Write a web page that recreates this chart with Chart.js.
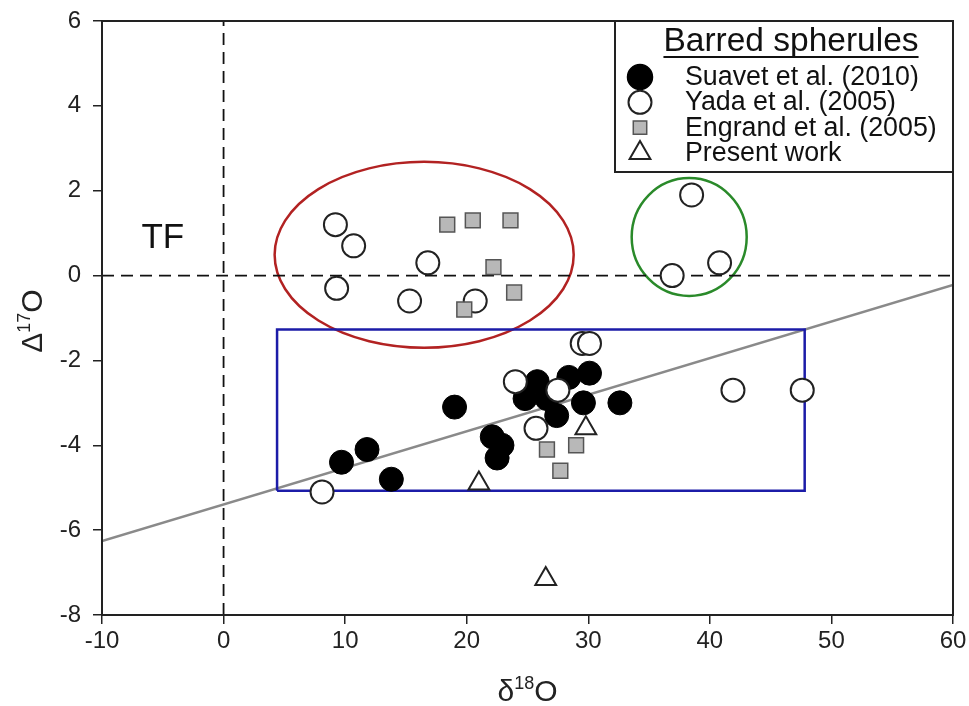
<!DOCTYPE html>
<html>
<head>
<meta charset="utf-8">
<script src="https://cdn.jsdelivr.net/npm/chart.js@4"></script>
<style>
html, body { margin: 0; padding: 0; background: #fff; }
#wrap { width: 969px; height: 706px; }
</style>
</head>
<body>
<div id="wrap"><canvas id="chart" width="969" height="706"></canvas></div>
<script>
// Suavet et al. (2010)
const suavetX = [9.7, 11.8, 13.8, 19.0, 22.1, 22.9, 22.5, 24.8, 25.8, 26.6, 27.4, 28.4, 30.1, 29.6, 32.6];
const suavetY = [-4.4, -4.1, -4.8, -3.1, -3.8, -4.0, -4.3, -2.9, -2.5, -2.9, -3.3, -2.4, -2.3, -3.0, -3.0];
// Yada et al. (2005)
const yadaX = [9.2, 10.7, 9.3, 16.8, 15.3, 20.7, 38.5, 36.9, 40.8, 24.0, 27.5, 29.5, 30.1, 25.7, 8.1, 41.9, 47.6];
const yadaY = [1.2, 0.7, -0.3, 0.3, -0.6, -0.6, 1.9, 0.0, 0.3, -2.5, -2.7, -1.6, -1.6, -3.6, -5.1, -2.7, -2.7];
// Engrand et al. (2005)
const engrandX = [18.4, 20.5, 23.6, 22.2, 23.9, 19.8, 26.6, 29.0, 27.7];
const engrandY = [1.2, 1.3, 1.3, 0.2, -0.4, -0.8, -4.1, -4.0, -4.6];
// Present work
const presentX = [29.8, 21.0, 26.5];
const presentY = [-3.6, -4.9, -7.15];

// grey reference line
const fitX = [-10, 60];
const fitY = [-6.26, -0.22];

// blue box
const boxX = [4.4, 47.8];
const boxY = [-5.07, -1.27];

// red and green groups (centre / half axes)
const ellipseX = [16.5, 38.3];
const ellipseY = [0.49, 0.91];
const ellipseRX = [12.3, 4.73];
const ellipseRY = [2.19, 1.39];
const ellipseColors = ['#b22222', '#2a8a2a'];

// "TF" label position
const tfPos = [-5.0, 0.88];

const legendTitle = 'Barred spherules';
const legendLabels = ['Suavet et al. (2010)', 'Yada et al. (2005)', 'Engrand et al. (2005)', 'Present work'];

// axis titles: [base symbol, superscript, element]
const xTitle = ['δ', '18', 'O'];
const yTitle = ['Δ', '17', 'O'];

const FONT = "'Liberation Sans', Arial, sans-serif";
const TICK_FONT = "'Liberation Sans Narrow', 'Arial Narrow', 'Liberation Sans', sans-serif";

function toPoints(xs, ys) {
    return xs.map((x, i) => ({ x: x, y: ys[i] }));
}

function boxPoints() {
    return [
        { x: boxX[0], y: boxY[0] }, { x: boxX[1], y: boxY[0] },
        { x: boxX[1], y: boxY[1] }, { x: boxX[0], y: boxY[1] },
        { x: boxX[0], y: boxY[0] }
    ];
}

function drawMarker(ctx, style, x, y, r, fill, stroke, lw) {
    ctx.save();
    ctx.beginPath();
    if (style === 'circle') {
        ctx.arc(x, y, r, 0, Math.PI * 2);
    } else if (style === 'rect') {
        const s = r * Math.SQRT1_2;
        ctx.rect(x - s, y - s, 2 * s, 2 * s);
    } else if (style === 'triangle') {
        ctx.moveTo(x, y - r);
        ctx.lineTo(x + r * Math.sin(Math.PI * 2 / 3), y - r * Math.cos(Math.PI * 2 / 3));
        ctx.lineTo(x + r * Math.sin(Math.PI * 4 / 3), y - r * Math.cos(Math.PI * 4 / 3));
        ctx.closePath();
    }
    ctx.fillStyle = fill;
    ctx.fill();
    ctx.lineWidth = lw;
    ctx.strokeStyle = stroke;
    ctx.stroke();
    ctx.restore();
}

// draws e.g. δ18O with a raised 18, centred on (0,0) of the current transform
function drawSupTitle(ctx, parts) {
    ctx.font = '30px ' + FONT;
    const w0 = ctx.measureText(parts[0]).width;
    const w2 = ctx.measureText(parts[2]).width;
    ctx.font = '18px ' + FONT;
    const w1 = ctx.measureText(parts[1]).width;
    const total = w0 + w1 + w2;
    let x = -total / 2;
    ctx.textAlign = 'left';
    ctx.textBaseline = 'alphabetic';
    ctx.font = '30px ' + FONT;
    ctx.fillText(parts[0], x, 0);
    x += w0;
    ctx.font = '18px ' + FONT;
    ctx.fillText(parts[1], x, -12);
    x += w1;
    ctx.font = '30px ' + FONT;
    ctx.fillText(parts[2], x, 0);
}

const decorPlugin = {
    id: 'decor',
    beforeDatasetsDraw(chart) {
        const ctx = chart.ctx;
        const xs = chart.scales.x, ys = chart.scales.y;
        ctx.save();
        for (let i = 0; i < ellipseX.length; i++) {
            const cx = xs.getPixelForValue(ellipseX[i]);
            const cy = ys.getPixelForValue(ellipseY[i]);
            const rx = Math.abs(xs.getPixelForValue(ellipseX[i] + ellipseRX[i]) - cx);
            const ry = Math.abs(ys.getPixelForValue(ellipseY[i] + ellipseRY[i]) - cy);
            ctx.beginPath();
            ctx.ellipse(cx, cy, rx, ry, 0, 0, Math.PI * 2);
            ctx.lineWidth = 2.5;
            ctx.strokeStyle = ellipseColors[i];
            ctx.stroke();
        }
        // TF label
        ctx.font = '35px ' + FONT;
        ctx.fillStyle = '#111';
        ctx.textAlign = 'center';
        ctx.textBaseline = 'middle';
        ctx.fillText('TF', xs.getPixelForValue(tfPos[0]), ys.getPixelForValue(tfPos[1]));
        ctx.restore();
    },
    afterDraw(chart) {
        const ctx = chart.ctx;
        const a = chart.chartArea;
        ctx.save();
        // frame
        ctx.lineWidth = 2;
        ctx.strokeStyle = '#222';
        ctx.strokeRect(a.left, a.top, a.right - a.left, a.bottom - a.top);

        // axis titles
        ctx.fillStyle = '#222';
        ctx.save();
        ctx.translate((a.left + a.right) / 2, 701);
        drawSupTitle(ctx, xTitle);
        ctx.restore();
        ctx.save();
        ctx.translate(42, (a.top + a.bottom) / 2 + 3);
        ctx.rotate(-Math.PI / 2);
        drawSupTitle(ctx, yTitle);
        ctx.restore();

        // legend box
        const w = 338, h = 151;
        const x0 = a.right - w, y0 = a.top;
        ctx.fillStyle = '#fff';
        ctx.fillRect(x0, y0, w, h);
        ctx.strokeRect(x0, y0, w, h);

        ctx.fillStyle = '#111';
        ctx.font = '33.5px ' + FONT;
        ctx.textAlign = 'center';
        ctx.textBaseline = 'alphabetic';
        const tx = x0 + 176;
        ctx.fillText(legendTitle, tx, y0 + 30);
        const tw = ctx.measureText(legendTitle).width;
        ctx.beginPath();
        ctx.moveTo(tx - tw / 2, y0 + 36);
        ctx.lineTo(tx + tw / 2, y0 + 36);
        ctx.lineWidth = 2;
        ctx.strokeStyle = '#111';
        ctx.stroke();

        const styles = [
            ['circle', 12.5, '#000', '#000', 1.5],
            ['circle', 11.5, '#fff', '#222', 2],
            ['rect', 9.5, '#b8b8b8', '#555', 1.5],
            ['triangle', 12, '#fff', '#222', 2]
        ];
        ctx.font = '26.8px ' + FONT;
        ctx.textAlign = 'left';
        for (let i = 0; i < legendLabels.length; i++) {
            const cy = y0 + 56 + i * 25.3;
            const s = styles[i];
            drawMarker(ctx, s[0], x0 + 25, cy, s[1], s[2], s[3], s[4]);
            ctx.fillStyle = '#111';
            ctx.fillText(legendLabels[i], x0 + 70, cy + 8);
        }
        ctx.restore();
    }
};

const ctx = document.getElementById('chart').getContext('2d');
new Chart(ctx, {
    type: 'scatter',
    data: {
        datasets: [
            {
                label: 'Present work',
                data: toPoints(presentX, presentY),
                pointStyle: 'triangle',
                pointRadius: 12,
                backgroundColor: '#fff',
                borderColor: '#222',
                borderWidth: 2,
                order: 1
            },
            {
                label: 'Engrand et al. (2005)',
                data: toPoints(engrandX, engrandY),
                pointStyle: 'rect',
                pointRadius: 10.5,
                backgroundColor: '#b8b8b8',
                borderColor: '#555',
                borderWidth: 1.5,
                order: 2
            },
            {
                label: 'Yada et al. (2005)',
                data: toPoints(yadaX, yadaY),
                pointStyle: 'circle',
                pointRadius: 11.5,
                backgroundColor: '#fff',
                borderColor: '#222',
                borderWidth: 2,
                order: 3
            },
            {
                label: 'Suavet et al. (2010)',
                data: toPoints(suavetX, suavetY),
                pointStyle: 'circle',
                pointRadius: 12,
                backgroundColor: '#000',
                borderColor: '#000',
                borderWidth: 1,
                order: 4
            },
            {
                label: 'box',
                data: boxPoints(),
                showLine: true,
                pointRadius: 0,
                borderColor: '#1c1ca8',
                borderWidth: 2.5,
                order: 5
            },
            {
                label: 'fit',
                data: toPoints(fitX, fitY),
                showLine: true,
                pointRadius: 0,
                borderColor: '#8a8a8a',
                borderWidth: 2.5,
                order: 6
            },
            {
                label: 'zero x',
                data: [{ x: 0, y: -8 }, { x: 0, y: 6 }],
                showLine: true,
                pointRadius: 0,
                borderColor: '#111',
                borderWidth: 1.8,
                borderDash: [12, 7],
                order: 7
            },
            {
                label: 'zero y',
                data: [{ x: -10, y: 0 }, { x: 60, y: 0 }],
                showLine: true,
                pointRadius: 0,
                borderColor: '#111',
                borderWidth: 1.8,
                borderDash: [12, 7],
                order: 7
            }
        ]
    },
    options: {
        responsive: false,
        animation: false,
        events: [],
        layout: { padding: { left: 0, top: 21, right: 16, bottom: 0 } },
        plugins: {
            legend: { display: false },
            tooltip: { enabled: false }
        },
        scales: {
            x: {
                type: 'linear',
                min: -10,
                max: 60,
                afterFit: (s) => { s.height = 91; s.paddingLeft = 0; s.paddingRight = 0; },
                ticks: { stepSize: 10, color: '#222', padding: 3, font: { family: TICK_FONT, size: 24 } },
                grid: { drawOnChartArea: false, drawTicks: true, tickLength: 9, color: '#222', lineWidth: 1.5 },
                border: { display: true, color: '#222', width: 2 }
            },
            y: {
                type: 'linear',
                min: -8,
                max: 6,
                afterFit: (s) => { s.width = 102; s.paddingTop = 0; s.paddingBottom = 0; },
                ticks: { stepSize: 2, color: '#222', padding: 12, font: { family: TICK_FONT, size: 24 } },
                grid: { drawOnChartArea: false, drawTicks: true, tickLength: 9, color: '#222', lineWidth: 1.5 },
                border: { display: true, color: '#222', width: 2 }
            }
        }
    },
    plugins: [decorPlugin]
});
</script>
</body>
</html>
